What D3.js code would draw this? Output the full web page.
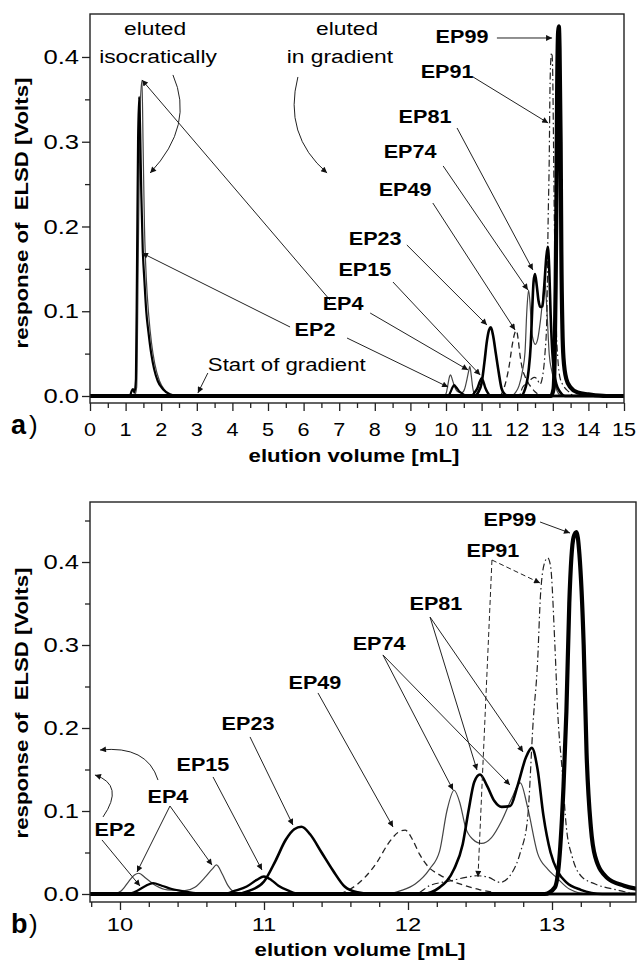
<!DOCTYPE html>
<html><head><meta charset="utf-8">
<script src="https://cdn.jsdelivr.net/npm/d3@7"></script>
<style>body{margin:0;background:#fff}svg{display:block}</style>
</head><body>
<svg id="c" width="639" height="964"></svg>
<script>
// ---------- data (elution volume [mL], response [V]) ----------
const seriesNames = ["EP49","EP74","EP91","EP4","EP2","EP15","EP23","EP81","EP99"];
const ep2 = [[0,0],[1.12,0],[1.17,0.006],[1.21,0.008],[1.25,0.004],[1.29,0.02],[1.32,0.15],[1.35,0.3],[1.38,0.353],[1.41,0.31],[1.44,0.24],[1.48,0.175],[1.53,0.135],[1.58,0.1],[1.64,0.076],[1.72,0.05],[1.8,0.032],[1.9,0.018],[2.05,0.008],[2.25,0.002],[2.45,0],[10.05,0],[10.12,0.004],[10.18,0.01],[10.23,0.013],[10.29,0.01],[10.36,0.006],[10.45,0.003],[10.6,0],[15,0]];
const ep4 = [[0,0],[1.25,0],[1.31,0.01],[1.36,0.18],[1.41,0.34],[1.46,0.372],[1.49,0.3],[1.53,0.2],[1.58,0.14],[1.65,0.095],[1.73,0.062],[1.82,0.038],[1.95,0.018],[2.1,0.007],[2.35,0],[9.95,0],[10.01,0.004],[10.06,0.015],[10.1,0.023],[10.13,0.025],[10.18,0.019],[10.25,0.01],[10.33,0.005],[10.45,0.004],[10.52,0.008],[10.59,0.02],[10.64,0.03],[10.67,0.035],[10.71,0.024],[10.75,0.01],[10.8,0.002],[10.9,0],[15,0]];
const ep15 = [[0,0],[10.72,0],[10.8,0.004],[10.88,0.009],[10.95,0.017],[11.0,0.021],[11.05,0.017],[11.1,0.01],[11.17,0.004],[11.25,0],[15,0]];
const ep23 = [[0,0],[10.8,0],[10.9,0.004],[11.0,0.015],[11.08,0.04],[11.15,0.065],[11.21,0.078],[11.26,0.081],[11.32,0.072],[11.4,0.05],[11.48,0.028],[11.56,0.009],[11.65,0.002],[11.75,0],[15,0]];
const ep49 = [[0,0],[11.5,0],[11.6,0.006],[11.7,0.02],[11.78,0.037],[11.86,0.06],[11.93,0.074],[11.98,0.077],[12.03,0.066],[12.08,0.048],[12.14,0.033],[12.22,0.023],[12.3,0.016],[12.4,0.01],[12.5,0.005],[12.65,0.001],[12.8,0],[15,0]];
const ep74 = [[0,0],[11.85,0],[11.95,0.004],[12.05,0.012],[12.15,0.03],[12.22,0.052],[12.27,0.1],[12.32,0.125],[12.36,0.11],[12.4,0.08],[12.45,0.066],[12.51,0.061],[12.58,0.068],[12.65,0.088],[12.72,0.115],[12.78,0.134],[12.83,0.105],[12.9,0.049],[12.97,0.03],[13.03,0.02],[13.12,0.006],[13.25,0],[15,0]];
const ep81 = [[0,0],[12.1,0],[12.22,0.008],[12.32,0.03],[12.38,0.06],[12.42,0.1],[12.46,0.135],[12.5,0.144],[12.55,0.13],[12.6,0.112],[12.65,0.105],[12.71,0.106],[12.76,0.13],[12.82,0.165],[12.86,0.176],[12.9,0.15],[12.94,0.095],[12.99,0.05],[13.04,0.027],[13.1,0.014],[13.2,0.005],[13.35,0],[15,0]];
const ep91 = [[0,0],[12.05,0],[12.15,0.01],[12.3,0.016],[12.4,0.02],[12.48,0.022],[12.56,0.02],[12.64,0.014],[12.72,0.025],[12.78,0.05],[12.83,0.09],[12.87,0.21],[12.9,0.28],[12.92,0.36],[12.95,0.4],[12.97,0.405],[12.99,0.395],[13.02,0.3],[13.04,0.218],[13.07,0.15],[13.1,0.08],[13.14,0.045],[13.2,0.022],[13.3,0.012],[13.45,0.005],[13.6,0],[15,0]];
const ep99 = [[0,0],[12.95,0],[13.02,0.008],[13.05,0.04],[13.08,0.13],[13.1,0.22],[13.12,0.35],[13.15,0.43],[13.17,0.436],[13.19,0.41],[13.22,0.3],[13.24,0.17],[13.27,0.08],[13.3,0.045],[13.38,0.02],[13.5,0.01],[13.7,0.004],[14.0,0.002],[14.5,0],[15,0]];
const seriesData = {EP2:ep2, EP4:ep4, EP15:ep15, EP23:ep23, EP49:ep49, EP74:ep74, EP81:ep81, EP91:ep91, EP99:ep99};

// tick labels
const xTickLabelsA = [0,1,2,3,4,5,6,7,8,9,10,11,12,13,14,15];
const xTickLabelsB = [10,11,12,13];
const yTickLabels = [0.0,0.1,0.2,0.3,0.4];

// ---------- styles ----------
const styles = {
  EP2:{w:2.2,c:"#000",dash:null},
  EP4:{w:1.2,c:"#444",dash:null},
  EP15:{w:2.4,c:"#000",dash:null},
  EP23:{w:2.6,c:"#000",dash:null},
  EP49:{w:1.3,c:"#222",dash:"6,4"},
  EP74:{w:1.2,c:"#444",dash:null},
  EP81:{w:2.6,c:"#000",dash:null},
  EP91:{w:1.2,c:"#222",dash:"7,3,1.5,3"},
  EP99:{w:4.2,c:"#000",dash:null}
};
const FONT = "'Liberation Sans', Arial, Helvetica, sans-serif";

const svg = d3.select("#c");
const defs = svg.append("defs");
defs.append("marker").attr("id","ah").attr("viewBox","0 0 10 10").attr("refX",10).attr("refY",5)
  .attr("markerWidth",9).attr("markerHeight",6).attr("markerUnits","userSpaceOnUse").attr("orient","auto")
  .append("path").attr("d","M0,0L10,5L0,10z").attr("fill","#111");

function T(g, x, y, s, o={}) {
  const t = g.append("text")
    .attr("transform", `translate(${x},${y})${o.rot?` rotate(${o.rot})`:""} scale(${o.sx||1.2},1)`)
    .attr("text-anchor", o.anchor||"middle")
    .attr("font-family", FONT).attr("font-size", o.size||18)
    .attr("font-weight", o.bold?"bold":"normal").attr("fill","#000")
    .style("white-space","pre")
    .text(s);
  if (o.dy) t.attr("dy", o.dy);
  return t;
}

// ---------- panels ----------
const panels = [
  {id:"A", left:90, right:624, top:14, bottom:403, xd:[0,15], yd:[-0.00826,0.4507],
   xMajor:xTickLabelsA, xMinor:d3.range(0.5,15,1), yMinor:[0.05,0.15,0.25,0.35],
   xtSize:18, xtScale:1.2, xtBase:436, titleBase:462, tag:"a", tagBase:434, ytitleY:213},
  {id:"B", left:90, right:636, top:502, bottom:902, xd:[9.7917,13.5833], yd:[-0.00964,0.4723],
   xMajor:xTickLabelsB, xMinor:d3.range(9.8,13.59,0.2).filter(v=>Math.abs(v-Math.round(v))>0.01), yMinor:[0.05,0.15,0.25,0.35,0.45],
   xtSize:19, xtScale:1.25, xtBase:931, titleBase:956, tag:"b", tagBase:933, ytitleY:703}
];

const scales = {};
panels.forEach(p => {
  const x = d3.scaleLinear().domain(p.xd).range([p.left,p.right]);
  const y = d3.scaleLinear().domain(p.yd).range([p.bottom,p.top]);
  scales[p.id] = {x,y};
  const g = svg.append("g");
  defs.append("clipPath").attr("id","clip"+p.id).append("rect")
    .attr("x",p.left).attr("y",p.top).attr("width",p.right-p.left).attr("height",p.bottom-p.top);

  // lines
  const line = d3.line().x(d=>x(d[0])).y(d=>y(d[1])).curve(d3.curveMonotoneX);
  const lg = g.append("g").attr("clip-path",`url(#clip${p.id})`);
  seriesNames.forEach(n => {
    const st = styles[n];
    lg.append("path").datum(seriesData[n]).attr("d",line)
      .attr("fill","none").attr("stroke",st.c).attr("stroke-width",st.w)
      .attr("stroke-linejoin","round")
      .attr("stroke-dasharray",st.dash);
  });

  // frame
  g.append("rect").attr("x",p.left).attr("y",p.top).attr("width",p.right-p.left).attr("height",p.bottom-p.top)
    .attr("fill","none").attr("stroke","#222").attr("stroke-width",1.4);

  // x axis
  const xa = d3.axisBottom(x).tickValues(p.xMajor).tickSize(8).tickFormat("");
  const xag = g.append("g").attr("transform",`translate(0,${p.bottom})`).call(xa);
  const xm = d3.axisBottom(x).tickValues(p.xMinor).tickSize(5).tickFormat("");
  const xmg = g.append("g").attr("transform",`translate(0,${p.bottom})`).call(xm);
  [xag,xmg].forEach(a=>{a.select(".domain").remove(); a.selectAll("line").attr("stroke","#222").attr("stroke-width",1.3);});
  p.xMajor.forEach(v => T(g, x(v), p.xtBase, String(v), {size:p.xtSize, sx:p.xtScale}));

  // y axis
  const ya = d3.axisLeft(y).tickValues(yTickLabels).tickSize(8).tickFormat("");
  const yag = g.append("g").attr("transform",`translate(${p.left},0)`).call(ya);
  const ym = d3.axisLeft(y).tickValues(p.yMinor).tickSize(5).tickFormat("");
  const ymg = g.append("g").attr("transform",`translate(${p.left},0)`).call(ym);
  [yag,ymg].forEach(a=>{a.select(".domain").remove(); a.selectAll("line").attr("stroke","#222").attr("stroke-width",1.3);});
  yTickLabels.forEach(v => T(g, 79, y(v), v.toFixed(1), {size:20, sx:1.28, anchor:"end", dy:"0.36em"}));

  // titles
  T(g, (p.left+p.right)/2 - 3, p.titleBase, "elution volume [mL]", {size:18.5, bold:true});
  T(g, 28, p.ytitleY, "response of  ELSD [Volts]", {size:18.5, bold:true, rot:-90});
  T(g, 11, p.tagBase, p.tag, {size:27, bold:true, anchor:"start", sx:1});
  T(g, 29, p.tagBase, ")", {size:26, anchor:"start", sx:1});
});

// ---------- annotations (in data coordinates) ----------
const annotA = [
  {t:"EP99", at:[10.45,0.4236], arrows:[[[11.43,0.4224],[12.98,0.4224]]]},
  {t:"EP91", at:[10.03,0.3823], arrows:[[[10.76,0.3764],[12.87,0.3221]]]},
  {t:"EP81", at:[9.41,0.3292], arrows:[[[10.31,0.3162],[12.44,0.1487]]]},
  {t:"EP74", at:[8.99,0.2879], arrows:[[[9.92,0.2714],[12.30,0.1251]]]},
  {t:"EP49", at:[8.85,0.2442], arrows:[[[9.63,0.2277],[11.94,0.0779]]]},
  {t:"EP23", at:[8.01,0.1864], arrows:[[[8.90,0.1782],[11.15,0.0838]]]},
  {t:"EP15", at:[7.72,0.1487], arrows:[[[8.51,0.1345],[10.96,0.0248]]]},
  {t:"EP4",  at:[7.11,0.1097], arrows:[[[7.87,0.0979],[10.62,0.0307]],[[6.74,0.1133],[1.46,0.3729]]]},
  {t:"EP2",  at:[6.32,0.0779], arrows:[[[7.22,0.0684],[10.06,0.0106]],[[5.62,0.0814],[1.46,0.1687]]]}
];
const annotB = [
  {t:"EP99", at:[12.708,0.4518], arrows:[[[12.917,0.4482],[13.125,0.4349]]]},
  {t:"EP91", at:[12.590,0.4133], arrows:[[[12.583,0.4024],[12.917,0.3747]],[[12.583,0.4024],[12.486,0.0205]]], dash:true},
  {t:"EP81", at:[12.194,0.3506], arrows:[[[12.153,0.3337],[12.479,0.1494]],[[12.153,0.3337],[12.799,0.1711]]]},
  {t:"EP74", at:[11.799,0.3024], arrows:[[[11.826,0.2880],[12.313,0.1253]],[[11.826,0.2880],[12.708,0.1313]]]},
  {t:"EP49", at:[11.354,0.2554], arrows:[[[11.375,0.2422],[11.896,0.0807]]]},
  {t:"EP23", at:[10.889,0.2060], arrows:[[[10.903,0.1892],[11.201,0.0831]]]},
  {t:"EP15", at:[10.576,0.1566], arrows:[[[10.646,0.1410],[10.986,0.0289]]]},
  {t:"EP4",  at:[10.333,0.1169], arrows:[[[10.347,0.1060],[10.118,0.0265]],[[10.347,0.1060],[10.639,0.0349]]]},
  {t:"EP2",  at:[9.965,0.0783], arrows:[[[9.875,0.0651],[10.139,0.0096]]]}
];
// curved arrows: [start, control, end]
const curvesA = [
  [[2.33,0.3788],[2.95,0.3197],[1.69,0.2631]],
  [[5.84,0.3764],[5.42,0.3080],[6.66,0.2631]]
];
const curvesB = [
  [[10.264,0.1373],[10.188,0.1795],[9.861,0.1735]],
  [[9.882,0.0928],[10.035,0.1313],[9.826,0.1434]]
];
const textA = [
  {t:"eluted", at:[1.83,0.4255]},
  {t:"isocratically", at:[1.91,0.3925]},
  {t:"eluted", at:[7.22,0.4255]},
  {t:"in gradient", at:[7.02,0.3925]}
];
const gradientStart = {t:"Start of gradient", at:[3.31,0.030], arrow:[[3.31,0.0271],[3.03,0.0035]]};

function drawAnnots(id, list, curves) {
  const {x,y} = scales[id];
  const g = svg.append("g");
  list.forEach(a => {
    a.arrows.forEach(ar => {
      g.append("line").attr("x1",x(ar[0][0])).attr("y1",y(ar[0][1]))
        .attr("x2",x(ar[1][0])).attr("y2",y(ar[1][1]))
        .attr("stroke","#222").attr("stroke-width",1)
        .attr("stroke-dasharray", a.dash ? "5,3" : null)
        .attr("marker-end","url(#ah)");
    });
    T(g, x(a.at[0]), y(a.at[1]), a.t, {size:18, bold:true, dy:"0.36em"});
  });
  curves.forEach(c => {
    g.append("path").attr("d",`M${x(c[0][0])},${y(c[0][1])}Q${x(c[1][0])},${y(c[1][1])} ${x(c[2][0])},${y(c[2][1])}`)
      .attr("fill","none").attr("stroke","#222").attr("stroke-width",1).attr("marker-end","url(#ah)");
  });
  return g;
}
const gA = drawAnnots("A", annotA, curvesA);
drawAnnots("B", annotB, curvesB);
{
  const {x,y} = scales.A;
  textA.forEach(d => T(gA, x(d.at[0]), y(d.at[1]), d.t, {size:19}));
  T(gA, x(gradientStart.at[0]), y(gradientStart.at[1]), gradientStart.t, {size:18.5, anchor:"start"});
  const ar = gradientStart.arrow;
  gA.append("line").attr("x1",x(ar[0][0])).attr("y1",y(ar[0][1])).attr("x2",x(ar[1][0])).attr("y2",y(ar[1][1]))
    .attr("stroke","#222").attr("stroke-width",1).attr("marker-end","url(#ah)");
}
</script>
</body></html>
